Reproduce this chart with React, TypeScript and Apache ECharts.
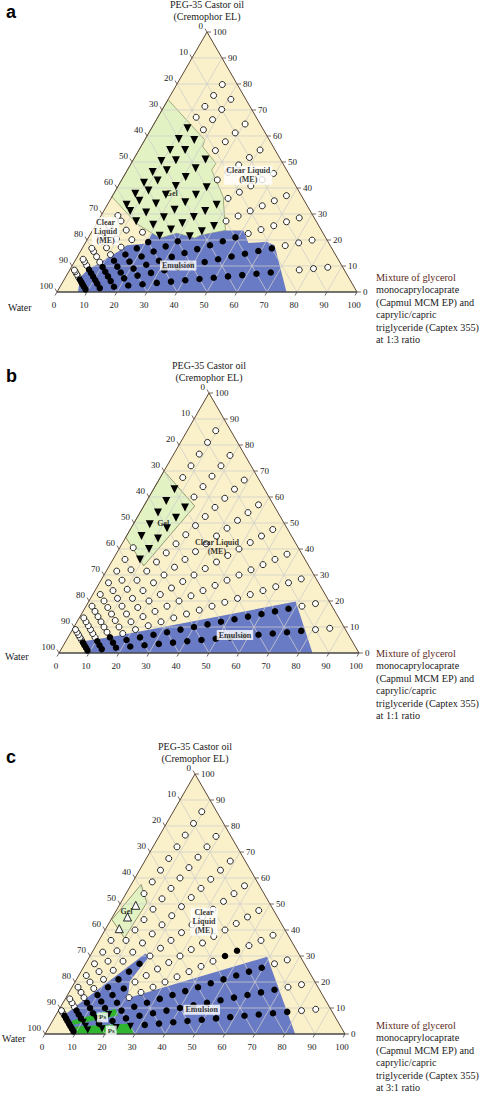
import React, { useEffect, useRef } from "react";
import * as echarts from "echarts";

// Water content (%) of the titration points along every dilution line
const waterLevels = [5, 10, 15, 20, 25, 30, 35, 40, 45, 50, 55, 60, 65, 70, 75, 80, 85, 90];
const tickValues = [0, 10, 20, 30, 40, 50, 60, 70, 80, 90, 100];
const gridValues = [10, 20, 30, 40, 50, 60, 70, 80, 90];

// Surfactant fraction S/(S+O) of every dilution line, per panel
const aRays = [0.1, 0.21, 0.3, 0.39, 0.48, 0.575, 0.68, 0.78, 0.84];
const bRays = [0.1, 0.2, 0.3, 0.4, 0.5, 0.6, 0.7, 0.8, 0.9];
const cRays = [0.1, 0.2, 0.3, 0.4, 0.5, 0.6, 0.7, 0.8, 0.9];

// One character per water level (5..90, groups of six):
// o clear liquid, f emulsion, t gel (filled ▼), g gel (open △), p Ps (▼), . no point
const aMarks = [
  "ooo.ff ffffff ffffff",
  "ooofff ffffff ffffff",
  "ooooof ffffff ffffff",
  "oooooo tttfff ffffff",
  "ooooot tttttf ffffff",
  "ooooot ttttto oooofo",
  "oooott tttttt oooooo",
  "oooott tttttt oooooo",
  "oooott tttttt oooooo",
];
const bMarks = [
  "ooffff ffffff ffffff",
  "ooffff ffffff ffffff",
  "oooooo oooooo ooofff",
  "oooooo oooooo ooooof",
  "oooooo oooooo oooooo",
  "oooooo oooooo oooooo",
  "oooooo oooooo oooooo",
  "ooooot ttttto oooooo",
  "ooooot ttttoo oooooo",
];
const cMarks = [
  "ooffff ffffff fppppf",
  "ooffff ffffff ffffpf",
  "ooffff ffffff ffpppf",
  "oooffo oooooo offfff",
  "oooooo oooooo ffffff",
  "oooooo ooooff ffffff",
  "oooooo oooooo ooooof",
  "oooooo oooooo oooooo",
  "oooooo oogggo oooooo",
];

// Phase regions as [surfactant %, oil mixture %]
const aGel = [[74, 0], [58.5, 20], [55.9, 20.6], [49.5, 28.2], [46.9, 28.1], [36.6, 37.1], [23.7, 44.3], [21.8, 37], [20.7, 35.6], [22.6, 28.7], [20.7, 24], [22.6, 20.4], [26.3, 13.4], [36.6, 0]];
const aEmulsion = [[0, 7], [5.6, 4.9], [8.3, 5.85], [16, 13], [18, 14.3], [18.7, 20.6], [22.6, 20.4], [20.7, 24], [22.6, 28.7], [20.7, 35.6], [21.8, 37], [23.7, 44.3], [23.7, 50.3], [18.8, 54.4], [19.3, 60.2], [18, 63.5], [0, 76.5]];
const bGel = [[70, 0], [56.5, 17], [33.5, 11.5], [44.5, 0]];
const bEmulsion = [[0, 9.7], [4.4, 5.4], [6.3, 15], [19.8, 69], [0, 84.5]];
const cGel = [[57.5, 3.3], [50.5, 8.7], [37, 8], [44, 0.3]];
const cEmulsion = [[0, 9.9], [8, 3.2], [31, 18], [29.7, 19.8], [20.2, 18.1], [13.8, 20.7], [29.7, 59.2], [0, 83.4]];
const cPs1 = [[3.56, 7.6], [5.1, 6.3], [9.7, 18.65], [7.1, 20.75]];
const cPs2 = [[0, 10.5], [2.9, 8.5], [4.06, 26.7], [0, 29.5]];

const aLabels = [
  { text: "Gel", at: [37.9, 19.3], box: false },
  { text: "Clear Liquid\n(ME)", at: [44.9, 41.3], box: true },
  { text: "Clear\nLiquid\n(ME)", at: [23.4, 4.5], box: true },
  { text: "Emulsion", at: [10.2, 35.3], box: true },
];
const bLabels = [
  { text: "Gel", at: [49.9, 9.8], box: false },
  { text: "Clear Liquid\n(ME)", at: [40.9, 32.2], box: false },
  { text: "Emulsion", at: [6.9, 55.2], box: true },
];
const cLabels = [
  { text: "Gel", at: [47, 3.7], box: false },
  { text: "Clear\nLiquid\n(ME)", at: [43.2, 31.4], box: true },
  { text: "Emulsion", at: [9.3, 47.6], box: true },
  { text: "Ps", at: [6.4, 16], box: true, size: 7 },
  { text: "Ps", at: [1.3, 21.4], box: true, size: 7 },
];

const apexTitle = ["PEG-35 Castor oil", "(Cremophor EL)"];
const mixtureLines = ["Mixture of glycerol", "monocaprylocaprate", "(Capmul MCM EP) and", "caprylic/capric", "triglyceride (Captex 355)"];
const ratios = ["1:3", "1:1", "3:1"];

const SERIF = '"Liberation Serif", "Times New Roman", serif';
const CREAM = "#faf0c9";
const GEL = "#e2f2c2";
const BLUE = "#6a7bc5";
const PSGREEN = "#2fb52f";
const GRIDLINE = "rgba(206,206,206,0.95)";
const EDGE = "#5a4636";
const BASE = "#474747";

const PANELS = [
  { letter: "a", left: 57, top: 32, rays: aRays, marks: aMarks, labels: aLabels,
    regions: [{ pts: aGel, fill: GEL, stroke: "#6f7f4a" }, { pts: aEmulsion, fill: BLUE }],
    letterY: 12, waterX: 8, waterY: 307, mixY: 277, ratio: ratios[0] },
  { letter: "b", left: 59, top: 393, rays: bRays, marks: bMarks, labels: bLabels,
    regions: [{ pts: bGel, fill: GEL, stroke: "#55603a" }, { pts: bEmulsion, fill: BLUE }],
    letterY: 376, waterX: 5, waterY: 656, mixY: 653, ratio: ratios[1] },
  { letter: "c", left: 45, top: 774, rays: cRays, marks: cMarks, labels: cLabels,
    regions: [{ pts: cGel, fill: GEL, stroke: "#55603a" }, { pts: cEmulsion, fill: BLUE }, { pts: cPs1, fill: PSGREEN }, { pts: cPs2, fill: PSGREEN }],
    letterY: 757, waterX: 2, waterY: 1038, mixY: 1025, ratio: ratios[2] },
];

const MARKERS: Record<string, any> = {
  o: { symbol: "circle", size: 6, rotate: 0, color: "#ffffff", border: "#111", bw: 0.9 },
  f: { symbol: "circle", size: 6.5, rotate: 0, color: "#000000", border: "#000", bw: 0 },
  t: { symbol: "triangle", size: 8, rotate: 180, color: "#000000", border: "#000", bw: 0 },
  g: { symbol: "triangle", size: 8, rotate: 0, color: "#ffffff", border: "#111", bw: 0.9 },
  p: { symbol: "triangle", size: 7, rotate: 180, color: "#000000", border: "#000", bw: 0 },
};

// ternary (surfactant S, oil O) -> plotting plane of an equilateral triangle
function toXY(S: number, O: number): number[] {
  return [O + S / 2, S];
}

function pointsOf(rays: number[], marks: string[], code: string) {
  const out: number[][] = [];
  rays.forEach((f, i) => {
    const codes = marks[i].replace(/ /g, "").split("");
    codes.forEach((c, j) => {
      if (c !== code) return;
      const rest = 100 - waterLevels[j];
      out.push(toXY(f * rest, (1 - f) * rest));
    });
  });
  return out;
}

function txt(s: string, x: number, y: number, align: string, font: string, fill = "#222") {
  return {
    type: "text", x, y, silent: true,
    style: { text: s, fill, font, align, verticalAlign: "middle", textAlign: align, textVerticalAlign: "middle" },
  };
}

function seg(a: number[], b: number[], stroke: string, lineWidth: number) {
  return { type: "line", shape: { x1: a[0], y1: a[1], x2: b[0], y2: b[1] }, style: { stroke, lineWidth } };
}

function frame(api: any, p: any) {
  const P = (S: number, O: number) => api.coord(toXY(S, O));
  const kids: any[] = [];
  kids.push({ type: "polygon", shape: { points: [P(0, 0), P(0, 100), P(100, 0)] }, style: { fill: CREAM } });
  p.regions.forEach((r: any) => {
    kids.push({
      type: "polygon",
      shape: { points: r.pts.map((q: number[]) => P(q[0], q[1])) },
      style: { fill: r.fill, stroke: r.stroke || null, lineWidth: r.stroke ? 0.6 : 0 },
    });
  });
  gridValues.forEach((v) => {
    kids.push(seg(P(v, 0), P(v, 100 - v), GRIDLINE, 0.8));
    kids.push(seg(P(0, v), P(100 - v, v), GRIDLINE, 0.8));
    kids.push(seg(P(0, 100 - v), P(100 - v, 0), GRIDLINE, 0.8));
  });
  const w = P(0, 0), oil = P(0, 100), su = P(100, 0);
  kids.push(seg(w, su, EDGE, 1));
  kids.push(seg(su, oil, EDGE, 1));
  kids.push(seg(w, oil, BASE, 1.6));
  const tickFont = "9px " + SERIF;
  tickValues.forEach((v) => {
    const b = P(0, v);
    kids.push(seg(b, [b[0] - 2, b[1] + 3.5], BASE, 0.8));
    kids.push(txt(String(v), b[0] - 3, b[1] + 12.5, "center", tickFont));
    const l = P(100 - v, 0);
    kids.push(seg(l, [l[0] - 2, l[1] - 3.5], EDGE, 0.8));
    kids.push(txt(String(v), l[0] - 4, l[1] - 6, "right", tickFont));
    const r = P(v, 100 - v);
    kids.push(seg(r, [r[0] + 4, r[1]], EDGE, 0.8));
    kids.push(txt(String(v), r[0] + 6, r[1], "left", tickFont));
  });
  return { type: "group", children: kids };
}

export default function App() {
  const ref = useRef<HTMLDivElement>(null);
  useEffect(() => {
    if (!ref.current) return;
    const chart = echarts.init(ref.current, undefined, { renderer: "svg" });
    const series: any[] = [];
    PANELS.forEach((p, i) => {
      series.push({
        type: "custom", coordinateSystem: "cartesian2d", xAxisIndex: i, yAxisIndex: i,
        data: [[0, 0]], clip: false, silent: true, z: 1,
        renderItem: (_params: any, api: any) => frame(api, p),
      });
      Object.keys(MARKERS).forEach((code) => {
        const m = MARKERS[code];
        series.push({
          type: "scatter", xAxisIndex: i, yAxisIndex: i, z: 3, silent: true,
          symbol: m.symbol, symbolSize: m.size, symbolRotate: m.rotate,
          itemStyle: { color: m.color, borderColor: m.border, borderWidth: m.bw, opacity: 1 },
          data: pointsOf(p.rays, p.marks, code),
        });
      });
      series.push({
        type: "scatter", xAxisIndex: i, yAxisIndex: i, z: 5, silent: true,
        symbolSize: 1, itemStyle: { color: "rgba(0,0,0,0)" },
        label: {
          show: true, position: "inside", formatter: "{b}", fontFamily: SERIF, fontWeight: "bold",
          fontSize: 8, lineHeight: 9, color: "#000", backgroundColor: "#ffffff", padding: [1, 2, 0, 2],
        },
        data: p.labels.map((l: any) => ({
          name: l.text,
          value: toXY(l.at[0], l.at[1]),
          label: Object.assign({}, l.box ? {} : { backgroundColor: "transparent" }, l.size ? { fontSize: l.size } : {}),
        })),
      });
    });

    const graphic: any[] = [];
    const titleFont = "10px " + SERIF;
    const mixFont = "10.2px " + SERIF;
    PANELS.forEach((p) => {
      const apexX = p.left + 150;
      graphic.push(txt(apexTitle[0], apexX, p.top - 28, "center", titleFont));
      graphic.push(txt(apexTitle[1], apexX, p.top - 16, "center", titleFont));
      graphic.push(txt(p.letter, 6, p.letterY, "left", 'bold 18px "Liberation Sans", Arial, sans-serif', "#000"));
      graphic.push(txt("Water", p.waterX, p.waterY, "left", titleFont));
      const lines = mixtureLines.concat(["at " + p.ratio + " ratio"]);
      lines.forEach((s, k) => {
        graphic.push(txt(s, 376, p.mixY + k * 12.5, "left", mixFont, k === 0 ? "#5b2a1a" : "#222"));
      });
    });

    chart.setOption({
      animation: false,
      backgroundColor: "#ffffff",
      grid: PANELS.map((p) => ({ left: p.left, top: p.top, width: 300, height: 260 })),
      xAxis: PANELS.map((_p, i) => ({ gridIndex: i, type: "value", min: 0, max: 100, show: false })),
      yAxis: PANELS.map((_p, i) => ({ gridIndex: i, type: "value", min: 0, max: 100, show: false })),
      series,
      graphic,
    });
    return () => chart.dispose();
  }, []);
  return <div ref={ref} style={{ position: "absolute", left: 0, top: 0, width: 484, height: 1093 }} />;
}
